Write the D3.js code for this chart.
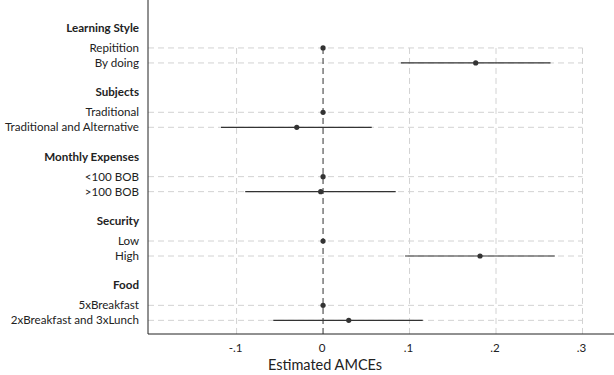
<!DOCTYPE html>
<html>
<head>
<meta charset="utf-8">
<script src="https://cdn.jsdelivr.net/npm/d3@7"></script>
<style>
    body { margin: 0; background: #fff; }
    svg { display: block; font-family: Lato, "Open Sans", sans-serif; }
</style>
</head>
<body>
<div id="graph"></div>
<script>
// groups of attributes, each with its levels
const groups = ["Learning Style", "Subjects", "Monthly Expenses", "Security", "Food"];
const levels = [
    ["Repitition", "By doing"],
    ["Traditional", "Traditional and Alternative"],
    ["<100 BOB", ">100 BOB"],
    ["Low", "High"],
    ["5xBreakfast", "2xBreakfast and 3xLunch"]
];
// estimates per level (reference level = 0, no interval)
const estimates = [
    [0, 0.1765],
    [0, -0.0304],
    [0, -0.0027],
    [0, 0.1815],
    [0, 0.0297]
];
const lower = [
    [null, 0.090],
    [null, -0.118],
    [null, -0.090],
    [null, 0.0948],
    [null, -0.0575]
];
const upper = [
    [null, 0.263],
    [null, 0.0563],
    [null, 0.084],
    [null, 0.268],
    [null, 0.1153]
];
const xTicks = [-0.1, 0, 0.1, 0.2, 0.3];
const xTickLabels = ["-.1", "0", ".1", ".2", ".3"];

const width = 614, height = 375;
const margin = {left: 148, bottom: 41};

// row positions: header, then two levels, in units of one row
const groupStep = 4.29, firstLevel = 1.33;
const rows = [];
groups.forEach((g, i) => {
    levels[i].forEach((lv, j) => {
        rows.push({label: lv, pos: i * groupStep + firstLevel + j,
                   est: estimates[i][j], lo: lower[i][j], hi: upper[i][j]});
    });
});

const x = d3.scaleLinear().domain([-0.2024, 0.3364]).range([margin.left, width]);
const y = d3.scaleLinear().domain([0, 1]).range([28, 43]);

const svg = d3.select('#graph').append('svg')
    .attr('width', width)
    .attr('height', height);

const plotBottom = height - margin.bottom;
const gridRight = x(0.3);

// horizontal grid lines on every level
svg.append('g').selectAll('line')
    .data(rows)
    .join('line')
    .attr('x1', margin.left).attr('x2', gridRight)
    .attr('y1', d => y(d.pos)).attr('y2', d => y(d.pos))
    .attr('stroke', '#d2d2d2').attr('stroke-width', 1)
    .attr('stroke-dasharray', '6,4');

// vertical grid lines
const firstRow = y(rows[0].pos);
svg.append('g').selectAll('line')
    .data(xTicks.filter(t => t !== 0))
    .join('line')
    .attr('x1', d => x(d)).attr('x2', d => x(d))
    .attr('y1', firstRow).attr('y2', plotBottom)
    .attr('stroke', '#d2d2d2').attr('stroke-width', 1)
    .attr('stroke-dasharray', '6,4');

// zero line
svg.append('line')
    .attr('x1', x(0)).attr('x2', x(0))
    .attr('y1', firstRow).attr('y2', plotBottom)
    .attr('stroke', '#555').attr('stroke-width', 1.2)
    .attr('stroke-dasharray', '6,4');

// confidence intervals
svg.append('g').selectAll('line')
    .data(rows.filter(d => d.lo !== null))
    .join('line')
    .attr('x1', d => x(d.lo)).attr('x2', d => x(d.hi))
    .attr('y1', d => y(d.pos)).attr('y2', d => y(d.pos))
    .attr('stroke', '#333').attr('stroke-width', 1.2);

// point estimates
svg.append('g').selectAll('circle')
    .data(rows)
    .join('circle')
    .attr('cx', d => x(d.est))
    .attr('cy', d => y(d.pos))
    .attr('r', 2.6)
    .attr('fill', '#333');

// axes lines
svg.append('line')
    .attr('x1', margin.left).attr('x2', margin.left)
    .attr('y1', 0).attr('y2', plotBottom)
    .attr('stroke', '#222').attr('stroke-width', 1);
svg.append('line')
    .attr('x1', margin.left).attr('x2', width)
    .attr('y1', plotBottom).attr('y2', plotBottom)
    .attr('stroke', '#222').attr('stroke-width', 1);

// group headers
svg.append('g').selectAll('text')
    .data(groups)
    .join('text')
    .attr('x', margin.left - 9)
    .attr('y', (d, i) => y(i * groupStep))
    .attr('dy', '0.35em')
    .attr('text-anchor', 'end')
    .attr('font-size', 11.6)
    .attr('font-weight', 'bold')
    .attr('fill', '#222')
    .text(d => d);

// level labels
svg.append('g').selectAll('text')
    .data(rows)
    .join('text')
    .attr('x', margin.left - 9)
    .attr('y', d => y(d.pos))
    .attr('dy', '0.35em')
    .attr('text-anchor', 'end')
    .attr('font-size', 11.6)
    .attr('fill', '#222')
    .text(d => d.label);

// x tick labels
svg.append('g').selectAll('text')
    .data(xTicks)
    .join('text')
    .attr('x', d => x(d) - 1)
    .attr('y', plotBottom + 18)
    .attr('text-anchor', 'middle')
    .attr('font-size', 11.6)
    .attr('fill', '#222')
    .text((d, i) => xTickLabels[i]);

// axis title
svg.append('text')
    .attr('x', x(0) + 2)
    .attr('y', plotBottom + 36)
    .attr('text-anchor', 'middle')
    .attr('font-size', 14.5)
    .attr('fill', '#222')
    .text('Estimated AMCEs');
</script>
</body>
</html>
